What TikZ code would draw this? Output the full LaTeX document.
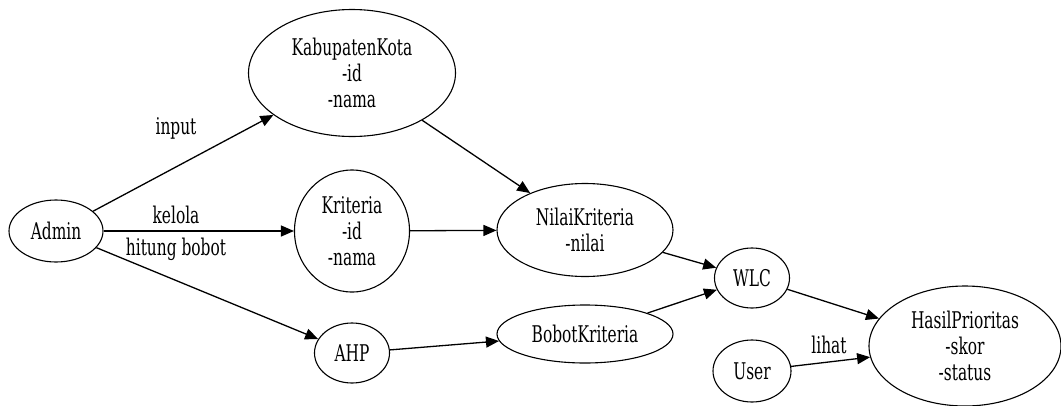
\documentclass[tikz,border=0pt]{standalone}
\usepackage{fontspec}
\setmainfont{DejaVu Serif}[FakeStretch=0.67]
\usetikzlibrary{shapes.geometric,arrows.meta}
\begin{document}
\begin{tikzpicture}[x=1pt,y=-1pt,
  ent/.style={draw,ellipse,inner sep=0pt,align=center,line width=1.1pt,
    font=\fontsize{23}{26}\selectfont},
  conn/.style={-{Triangle[length=13pt,width=11pt]},line width=1.3pt},
  lbl/.style={font=\fontsize{23}{26}\selectfont,inner sep=0pt}]
\useasboundingbox (0,0) rectangle (1061,405);
\node[ent,minimum width=94pt,minimum height=62pt] (admin) at (56,231) {Admin};
\node[ent,minimum width=207pt,minimum height=127pt] (kab) at (352,73) {KabupatenKota\\-id\\-nama};
\node[ent,minimum width=115pt,minimum height=122pt] (krit) at (352,231) {Kriteria\\-id\\-nama};
\node[ent,minimum width=75pt,minimum height=60pt] (ahp) at (352,353) {AHP};
\node[ent,minimum width=176pt,minimum height=93pt] (nilai) at (585,230) {NilaiKriteria\\-nilai};
\node[ent,minimum width=176pt,minimum height=58pt] (bobot) at (585,334) {BobotKriteria};
\node[ent,minimum width=75pt,minimum height=60pt] (wlc) at (752,278) {WLC};
\node[ent,minimum width=78pt,minimum height=62pt] (user) at (752,371) {User};
\node[ent,minimum width=192pt,minimum height=120pt] (hasil) at (965,346) {HasilPrioritas\\-skor\\-status};
\draw[conn] (admin) -- (kab);
\draw[conn] (admin) -- (krit);
\draw[conn] (admin) -- (ahp);
\draw[conn] (kab) -- (nilai);
\draw[conn] (krit) -- (nilai);
\draw[conn] (nilai) -- (wlc);
\draw[conn] (ahp) -- (bobot);
\draw[conn] (bobot) -- (wlc);
\draw[conn] (wlc) -- (hasil);
\draw[conn] (user) -- (hasil);
\node[lbl] (linput) at (176,128) {input};
\node[lbl] (lkelola) at (176,215) {kelola};
\node[lbl] (lhitung) at (176,249) {hitung bobot};
\node[lbl] (llihat) at (829,345) {lihat};
\end{tikzpicture}
\end{document}
